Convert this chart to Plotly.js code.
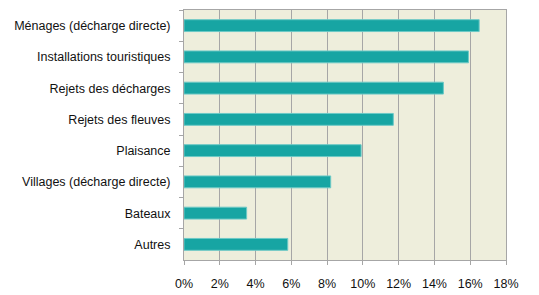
<!DOCTYPE html>
<html><head><meta charset="utf-8">
<script src="https://cdn.plot.ly/plotly-3.0.1.min.js"></script>
<style>html,body{margin:0;padding:0;background:#fff}</style>
</head><body>
<div id="chart" style="width:539px;height:295px"></div>
<script>
const categories = ["Ménages (décharge directe)", "Installations touristiques", "Rejets des décharges", "Rejets des fleuves", "Plaisance", "Villages (décharge directe)", "Bateaux", "Autres"];
const values = [0.165, 0.159, 0.145, 0.117, 0.099, 0.082, 0.035, 0.058];
const xTickVals = [0, 0.02, 0.04, 0.06, 0.08, 0.10, 0.12, 0.14, 0.16, 0.18];

const trace = {
  type: 'bar', orientation: 'h',
  y: categories, x: values,
  width: 0.38,
  marker: {color: '#17a5a3', line: {color: '#6cc9c6', width: 1}},
  hoverinfo: 'none'
};
const layout = {
  width: 539, height: 295,
  margin: {l: 184, r: 33, t: 10, b: 35},
  paper_bgcolor: '#ffffff', plot_bgcolor: '#eeeedc',
  font: {family: 'Liberation Sans, Arial, sans-serif', size: 12.5, color: '#111111'},
  showlegend: false,
  xaxis: {
    range: [0, 0.18], tickvals: xTickVals, tickformat: '.0%',
    showgrid: true, gridcolor: '#a6a6a6', gridwidth: 1,
    zeroline: false, showline: true, linecolor: '#a6a6a6', linewidth: 1, mirror: true,
    ticks: 'outside', ticklen: 4, tickcolor: '#a6a6a6',
    ticklabelstandoff: 8,
    tickfont: {size: 12.5}
  },
  yaxis: {
    type: 'category', autorange: 'reversed',
    tickson: 'boundaries', ticks: 'outside', ticklen: 4, tickcolor: '#a6a6a6',
    showgrid: false, showline: true, linecolor: '#a6a6a6', linewidth: 1, mirror: true,
    ticklabelstandoff: 10,
    tickfont: {size: 12.5}
  }
};
Plotly.newPlot('chart', [trace], layout, {staticPlot: true, displayModeBar: false});
</script>
</body></html>
